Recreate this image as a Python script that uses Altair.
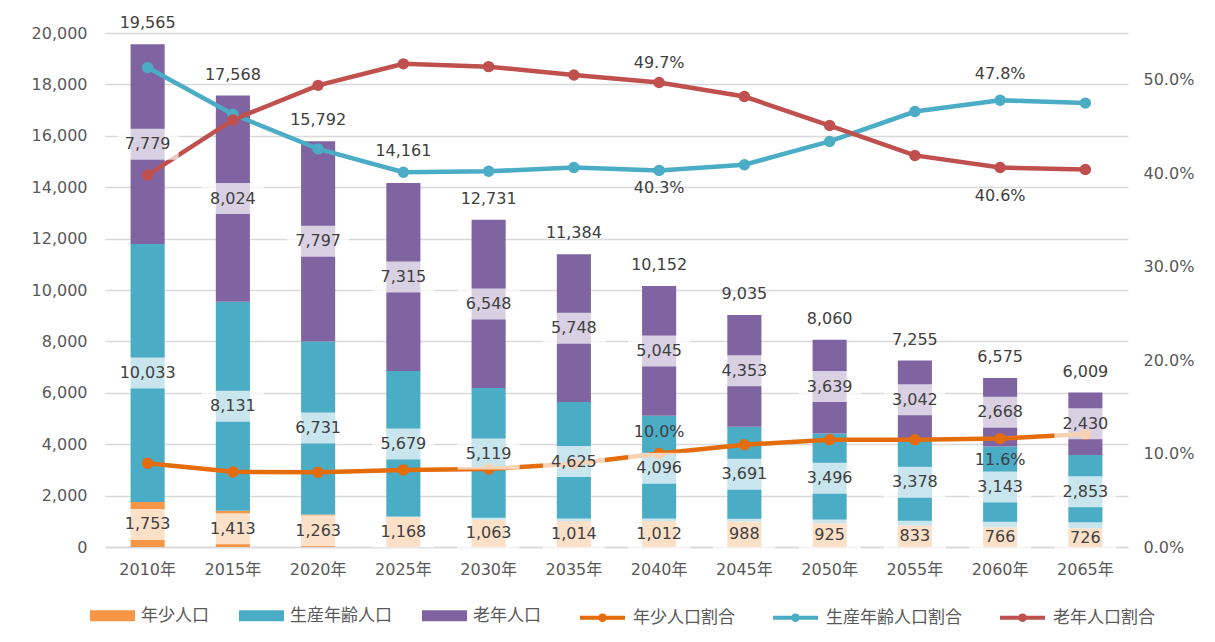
import altair as alt
import pandas as pd

years = ["2010年", "2015年", "2020年", "2025年", "2030年", "2035年",
         "2040年", "2045年", "2050年", "2055年", "2060年", "2065年"]
young = [1753, 1413, 1263, 1168, 1063, 1014, 1012, 988, 925, 833, 766, 726]
working = [10033, 8131, 6731, 5679, 5119, 4625, 4096, 3691, 3496, 3378, 3143, 2853]
old = [7779, 8024, 7797, 7315, 6548, 5748, 5045, 4353, 3639, 3042, 2668, 2430]
totals = [19565, 17568, 15792, 14161, 12731, 11384, 10152, 9035, 8060, 7255, 6575, 6009]

young_ratio = [0.0896, 0.0804, 0.0800, 0.0825, 0.0835, 0.0891, 0.1000, 0.1094, 0.1148, 0.1148, 0.1160, 0.1208]
working_ratio = [0.513, 0.463, 0.426, 0.401, 0.402, 0.406, 0.403, 0.409, 0.434, 0.466, 0.478, 0.475]
old_ratio = [0.398, 0.457, 0.494, 0.517, 0.514, 0.505, 0.497, 0.482, 0.451, 0.419, 0.406, 0.404]

bar_series = ["年少人口", "生産年齢人口", "老年人口"]
bar_colors = ["#F79646", "#4BACC6", "#8064A2"]
line_series = ["年少人口割合", "生産年齢人口割合", "老年人口割合"]
line_colors = ["#E46C0A", "#4BACC6", "#C0504D"]

# ratio labels shown in the chart: (series, year, pixel offset)
ratio_labels = [
    ("老年人口割合", "2040年", -20),
    ("年少人口割合", "2040年", -22),
    ("生産年齢人口割合", "2040年", 18),
    ("生産年齢人口割合", "2060年", -26),
    ("老年人口割合", "2060年", 28),
    ("年少人口割合", "2060年", 21),
]
# total labels that were moved further up in the original
raised_total_years = ["2025年"]

# ---- tables ----
bar_rows = []
for i, yr in enumerate(years):
    low = 0
    for s, vals in zip(bar_series, [young, working, old]):
        v = vals[i]
        bar_rows.append({"year": yr, "series": s, "value": v, "low": low,
                         "high": low + v, "mid": low + v / 2})
        low += v
bar_df = pd.DataFrame(bar_rows)
tot_df = pd.DataFrame({"year": years, "total": totals})
tot_df["raised"] = tot_df["year"].isin(raised_total_years)

line_rows = []
for s, vals in zip(line_series, [young_ratio, working_ratio, old_ratio]):
    for yr, v in zip(years, vals):
        line_rows.append({"year": yr, "series": s, "ratio": v})
line_df = pd.DataFrame(line_rows)

NUM_FONT = "DejaVu Sans"
CJK_FONT = "Noto Sans CJK JP"
TXT = "#404040"
AX = "#595959"

X = alt.X("year:N", sort=years,
          scale=alt.Scale(domain=years, paddingInner=0.6, paddingOuter=0.3),
          axis=alt.Axis(title=None, labelAngle=0, ticks=False, labelPadding=14,
                        labelFont=NUM_FONT + ", " + CJK_FONT, labelFontSize=16,
                        labelColor=AX, domainColor="#D9D9D9", domainWidth=1.5))

left_scale = alt.Scale(domain=[0, 20000], nice=False, zero=True)
right_scale = alt.Scale(domain=[0, 0.55], nice=False, zero=True)

bars = alt.Chart(bar_df).mark_bar().encode(
    x=X,
    y=alt.Y("low:Q", scale=left_scale,
            axis=alt.Axis(orient="left", title=None, values=list(range(0, 20001, 2000)),
                          format=",d", grid=True, gridColor="#D9D9D9", gridWidth=1.5,
                          domain=False, ticks=False, labelPadding=18,
                          labelFont=NUM_FONT, labelFontSize=16, labelColor=AX)),
    y2="high:Q",
    color=alt.Color("series:N",
                    scale=alt.Scale(domain=bar_series, range=bar_colors),
                    legend=alt.Legend(title=None, orient="none", direction="horizontal",
                                      legendX=-15, legendY=560,
                                      symbolType="M-1,-0.24H1V0.24H-1Z", symbolSize=2025,
                                      symbolStrokeWidth=0, symbolOpacity=1,
                                      labelFont=CJK_FONT, labelFontSize=17, labelColor=AX,
                                      labelOffset=6, columnPadding=30, labelLimit=300)),
    order=alt.Order("low:Q"),
)

lines = alt.Chart(line_df).mark_line(strokeWidth=4.5).encode(
    x=X,
    y=alt.Y("ratio:Q", scale=right_scale,
            axis=alt.Axis(orient="right", title=None, values=[0, 0.1, 0.2, 0.3, 0.4, 0.5],
                          format=".1%", grid=False, domain=False, ticks=False,
                          labelPadding=15, labelFont=NUM_FONT, labelFontSize=16,
                          labelColor=AX)),
    color=alt.Color("series:N",
                    scale=alt.Scale(domain=line_series, range=line_colors),
                    legend=alt.Legend(title=None, orient="none", direction="horizontal",
                                      legendX=473, legendY=560,
                                      symbolType="M-1,0H1M0.1,0A0.1,0.1 0 1,1 -0.1,0A0.1,0.1 0 1,1 0.1,0",
                                      symbolSize=2025, symbolStrokeWidth=4,
                                      labelFont=CJK_FONT, labelFontSize=17, labelColor=AX,
                                      labelOffset=6, columnPadding=30, labelLimit=300)),
)

points = alt.Chart(line_df).mark_circle(size=130, opacity=1).encode(
    x=X,
    y=alt.Y("ratio:Q", scale=right_scale, axis=None),
    color=alt.Color("series:N", scale=alt.Scale(domain=line_series, range=line_colors),
                    legend=None),
)

boxes = alt.Chart(bar_df).mark_tick(thickness=31, size=62, color="white", opacity=0.7).encode(
    x=X,
    y=alt.Y("mid:Q", scale=left_scale, axis=None),
)

seg_labels = alt.Chart(bar_df).mark_text(font=NUM_FONT, fontSize=16, color=TXT,
                                          baseline="middle").encode(
    x=X,
    y=alt.Y("mid:Q", scale=left_scale, axis=None),
    text=alt.Text("value:Q", format=",d"),
)

tot_labels = alt.Chart(tot_df).transform_filter("!datum.raised").mark_text(
    font=NUM_FONT, fontSize=16, color=TXT, baseline="bottom", dy=-13).encode(
    x=X,
    y=alt.Y("total:Q", scale=left_scale, axis=None),
    text=alt.Text("total:Q", format=",d"),
)

tot_labels_raised = alt.Chart(tot_df).transform_filter("datum.raised").mark_text(
    font=NUM_FONT, fontSize=16, color=TXT, baseline="bottom", dy=-24).encode(
    x=X,
    y=alt.Y("total:Q", scale=left_scale, axis=None),
    text=alt.Text("total:Q", format=",d"),
)

ratio_layers = []
for s, yr, off in ratio_labels:
    ratio_layers.append(
        alt.Chart(line_df).transform_filter(
            (alt.datum.series == s) & (alt.datum.year == yr)
        ).mark_text(font=NUM_FONT, fontSize=16, color=TXT, baseline="middle", dy=off).encode(
            x=X,
            y=alt.Y("ratio:Q", scale=right_scale, axis=None),
            text=alt.Text("ratio:Q", format=".1%"),
        )
    )

chart = alt.layer(bars, lines, points, boxes, seg_labels, tot_labels, tot_labels_raised,
                  *ratio_layers).resolve_scale(
    y="independent", color="independent"
).properties(
    width=1023, height=514,
    autosize=alt.AutoSizeParams(type="none"),
    padding={"left": 97, "top": 25, "right": 79, "bottom": 86},
).configure_view(stroke=None)

chart.save("out.html", embed_options={"renderer": "svg", "actions": False})
